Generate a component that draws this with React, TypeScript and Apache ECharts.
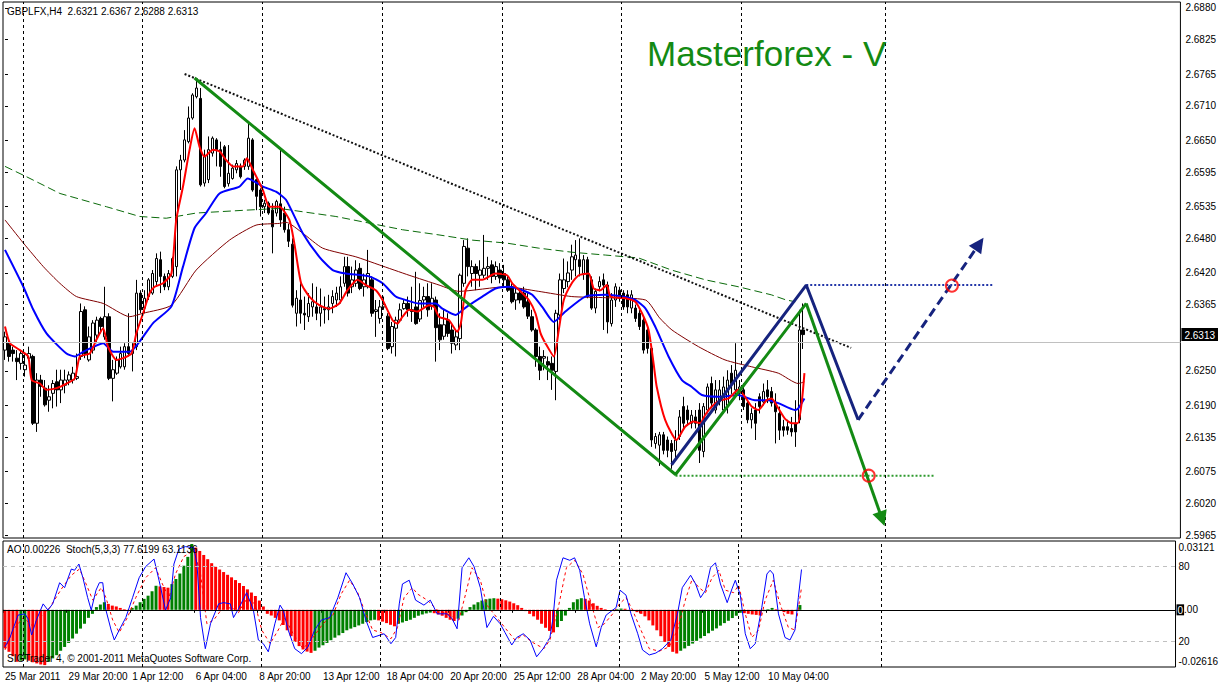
import React, { useEffect, useRef } from "react";
import * as echarts from "echarts";

// ---------- data (prices stored as pips above 2.6000) ----------
const BASE = 2.6;
const PIP = 0.0001;

// [open, close, low, high] per H4 candle, pips above 2.6000
const candlePips: number[][] = [
  [286,309,269,318],[298,275,266,304],[286,280,266,292],[272,266,234,286],[263,280,252,286],
  [252,260,240,280],[272,280,269,292],[275,159,156,278],[159,234,144,246],[234,223,205,243],
  [220,191,188,234],[199,205,179,225],[211,228,185,234],[231,217,188,252],[217,234,194,252],
  [225,234,211,252],[234,243,225,249],[234,246,228,257],[237,240,234,280],[275,353,269,367],
  [356,280,272,362],[269,309,266,327],[286,333,280,338],[312,338,298,344],[341,327,315,344],
  [309,344,304,396],[344,237,234,350],[237,252,197,269],[246,269,243,275],[257,280,254,292],
  [257,292,252,298],[292,280,275,350],[280,286,249,298],[292,385,286,408],[385,356,350,390],
  [359,376,350,390],[379,408,373,411],[385,419,382,425],[405,445,396,454],[443,414,385,457],
  [414,396,390,419],[396,419,390,425],[414,445,411,448],[431,599,414,605],[599,616,564,625],
  [616,651,612,668],[648,689,645,709],[689,729,686,732],[726,741,723,758],[723,573,570,741],
  [576,622,570,634],[582,634,576,657],[628,654,622,657],[651,634,605,654],[634,605,587,648],
  [639,570,567,642],[575,593,570,642],[584,602,582,608],[599,610,593,616],[605,587,584,610],
  [605,616,599,619],[605,654,599,680],[651,564,561,654],[582,553,529,584],[564,535,518,567],
  [535,541,524,547],[541,524,521,544],[529,500,454,541],[524,544,518,547],[540,512,500,634],
  [524,495,490,535],[495,475,465,505],[470,364,360,480],[350,376,327,390],[373,350,332,402],
  [350,347,321,379],[344,367,335,385],[361,370,344,402],[361,350,338,396],[350,361,327,393],
  [358,356,332,379],[356,361,338,382],[367,379,350,390],[373,385,361,396],[373,396,367,414],
  [402,431,396,448],[431,385,379,448],[396,408,385,431],[402,425,396,442],[428,393,390,437],
  [396,408,379,419],[396,419,393,460],[408,350,344,414],[353,356,309,373],[341,361,332,373],
  [361,365,356,379],[345,289,286,350],[292,327,280,335],[324,338,275,344],[338,356,335,367],
  [358,367,356,373],[367,356,344,379],[356,353,335,396],[361,332,330,422],[340,372,335,402],
  [373,379,361,396],[379,356,344,402],[362,376,356,402],[373,325,266,379],[330,304,286,350],
  [310,330,304,356],[338,315,309,350],[321,298,280,332],[295,309,286,321],[306,416,286,419],
  [402,466,396,477],[463,431,414,480],[419,431,396,442],[431,419,390,436],[416,425,396,442],
  [416,428,411,486],[428,431,408,448],[434,414,402,442],[414,431,408,440],[425,411,402,437],
  [419,408,396,434],[408,390,387,414],[396,370,367,402],[373,385,356,396],[385,373,367,390],
  [385,361,358,396],[370,345,340,385],[344,321,318,356],[321,275,257,324],[275,251,234,292],
  [272,275,251,286],[266,260,234,275],[263,251,217,275],[249,350,199,356],[347,408,338,419],
  [393,408,385,445],[405,420,395,440],[425,448,408,469],[443,451,414,477],[443,431,414,480],
  [419,443,408,451],[443,379,376,448],[408,359,356,414],[359,388,350,393],[396,405,388,414],
  [408,399,321,419],[399,335,315,405],[332,373,327,385],[373,396,361,402],[390,376,370,396],
  [385,361,356,390],[382,361,350,390],[359,382,350,390],[359,341,335,365],[350,327,321,356],
  [338,286,280,344],[321,289,280,327],[289,130,118,292],[124,136,115,142],[121,139,85,144],
  [139,112,105,144],[130,112,100,136],[124,110,80,130],[112,130,95,147],[136,170,130,182],
  [188,159,147,205],[182,165,155,190],[159,173,150,182],[170,159,150,182],[182,112,90,194],
  [110,188,100,194],[182,222,176,228],[228,194,185,240],[182,217,176,234],[199,217,190,234],
  [182,222,176,240],[190,234,176,251],[246,228,210,260],[217,251,205,298],[211,222,199,234],
  [217,188,182,228],[194,165,159,199],[165,176,150,185],[182,159,130,194],[205,188,176,211],
  [196,214,190,228],[217,205,194,234],[214,194,188,222],[194,179,124,211],[176,147,130,188],
  [153,147,136,165],[153,147,139,165],[150,144,136,170],[159,144,118,199],[165,321,159,356],
  [321,313,288,367],
];

// moving averages: [candle index, pips above 2.6000]
const redMA: number[][] = [
  [0,327],[1.25,298],[3.75,286],[5.8,275],[6.7,234],[8.75,228],[10.4,217],[12.9,220],[15.4,228],[17.5,237],
  [18.75,275],[21.25,280],[22.9,304],[24.6,324],[25.8,292],[27.9,269],[29.6,272],[31.7,280],[32.9,315],[34.6,350],
  [36.25,385],[37.5,396],[39.6,402],[41.7,419],[42.9,512],[44.6,570],[46.25,634],[47.5,671],[48.75,639],[50,622],
  [52.1,634],[53.75,631],[55.4,616],[57.1,605],[59.6,605],[60.6,619],[62.1,599],[64.6,564],[66.25,535],[68.75,535],
  [71.25,512],[72.5,471],[74.2,402],[76.25,379],[78.75,364],[81.25,358],[83.75,367],[85.8,390],[88.3,408],[90.4,399],
  [92.9,390],[94.6,373],[97.1,338],[98.3,332],[99.6,344],[101.25,356],[103.3,353],[106.25,364],[107.5,361],[108.75,344],
  [111.25,338],[113.3,318],[114.2,332],[115.4,390],[117.1,408],[119.6,408],[122.9,419],[125.8,416],[127.1,402],[129.6,385],
  [131.25,373],[132.9,350],[134.2,315],[135.4,298],[137.5,275],[138.75,321],[140,373],[142,402],[143.75,416],[146.25,419],
  [147.5,393],[149.2,390],[150.8,399],[151.7,379],[155.4,376],[157.9,370],[159.6,350],[161.25,321],[162.5,263],[163.3,222],
  [165.4,165],[168.25,130],[170.4,153],[172.5,162],[174.2,159],[175.4,173],[177.1,188],[179.2,199],[181.25,202],[183.75,217],
  [185.4,205],[187.1,188],[188.75,182],[190.8,199],[192.1,202],[193.75,185],[195.4,167],[197.1,159],[198.6,159],[199.6,194],
  [200.3,246],
];
const blueMA: number[][] = [
  [0,460],[4.6,396],[7.1,356],[10.4,315],[15.4,280],[17.5,275],[19.6,283],[24.6,298],[27.1,283],[31.25,283],
  [33.75,301],[37.1,333],[41.7,362],[44.6,431],[47.5,498],[50.4,524],[53.75,558],[58.75,570],[60.8,584],[64.6,570],
  [67.9,561],[70.4,547],[74.6,489],[78.75,448],[82.1,425],[85.4,419],[91.25,414],[94.6,402],[97.9,379],[100.4,373],
  [103.75,367],[107.9,367],[109.6,358],[112.9,347],[114.2,353],[116.25,364],[119.6,379],[122.9,393],[126.25,396],[129.6,390],
  [132.1,382],[134.6,361],[137.5,335],[140.4,353],[145.4,379],[150.4,382],[154.6,379],[157.9,373],[160.4,359],[162.9,327],
  [166.25,275],[169.6,234],[172.1,222],[174.6,208],[178.75,205],[183.75,208],[187.9,199],[191.25,199],[193.75,194],[197.9,182],
  [198.75,185],[200.3,202],
];
const brownMA: number[][] = [
  [0,512],[4.6,472],[9.6,431],[13.75,402],[17.9,379],[24.6,367],[31.25,344],[34.6,350],[41.7,364],[47.9,425],
  [56.25,477],[62.9,503],[68.75,506],[70.4,508],[74.6,489],[79.6,463],[87.9,448],[93.75,434],[101.25,416],[108.75,399],
  [113.75,388],[125.5,396],[133.75,388],[142,379],[150.5,377],[160.5,373],[164,342],[167.1,321],[173.75,292],[180.4,269],
  [187.1,257],[193.75,246],[198.75,228],[200.3,231],
];
const greenMA: number[][] = [
  [0,605],[5.4,587],[13.75,558],[25.4,535],[33.75,518],[40.4,515],[47.9,524],[60.4,529],[68.75,532],[82.9,518],
  [99.6,495],[108.75,486],[117,477],[125.5,472],[133.75,463],[142,456],[150.5,451],[158.75,446],[167,425],[175.5,408],
  [183.75,396],[192,382],[195.75,373],[198,370],
];

// Awesome Oscillator, units of 0.0001
const aoPips: number[] = [
  -183,-199,-220,-246,-241,-235,-241,-248,-254,-259,
  -262,-246,-230,-215,-194,-176,-157,-136,-113,-89,
  -66,-38,-19,13,25,36,28,20,16,9,
  3,-3,9,20,36,52,67,88,114,111,
  108,105,122,146,172,209,251,312,295,279,
  260,240,221,204,191,179,166,154,141,127,
  113,97,82,66,44,16,-19,-27,-38,-50,
  -72,-97,-125,-152,-172,-188,-198,-204,-194,-179,
  -168,-157,-144,-132,-121,-110,-97,-89,-82,-74,
  -66,-58,-50,-47,-50,-56,-63,-71,-78,-66,
  -60,-53,-47,-38,-28,-22,-17,-13,-16,-22,
  -28,-38,-47,-53,-42,-27,-11,13,25,36,
  44,50,53,55,53,50,45,39,31,22,
  9,-6,-19,-31,-47,-66,-85,-100,-107,-82,
  -53,-27,9,36,50,55,52,44,31,19,
  9,3,0,-3,3,6,5,-3,-6,-11,
  -19,-31,-50,-74,-97,-125,-152,-176,-199,-207,
  -194,-183,-171,-160,-147,-135,-124,-111,-99,-88,
  -75,-63,-52,-39,-28,-14,-16,-19,-22,-24,
  -27,-6,3,9,3,-3,-11,-19,-22,-3,
  22.6,
];

// Stochastic(5,3,3): [candle index, value]
const stochMain: number[][] = [
  [0,15.5],[1.25,23],[3.3,41],[5,42],[5.8,38],[6.7,25],[7.9,37],[9.6,50],[10.8,45],[12,50],
  [13.75,67],[15,63],[16.7,78],[17.5,77],[18.6,82],[19.6,71],[20.8,55],[21.7,45],[22.9,61],[23.75,67],
  [24.6,67],[25.4,45],[26.7,29],[27.5,21],[28.75,29],[30.4,39],[32.1,55],[33.75,71],[35.4,80],[37.5,86],
  [38.75,69],[40.4,45],[41.7,55],[42.5,82],[43.75,94],[45.4,96],[47.5,95],[48.3,82],[49.2,39],[50.4,14],
  [51.7,34],[53.75,50],[55,51],[56.7,50],[57.5,39],[58.75,46],[60.8,59],[62.5,45],[63.75,21],[65,18],
  [66.25,11.5],[67.9,34],[69.2,49],[70,45],[71.25,29],[72.9,14],[74.6,10],[76.25,15.5],[77.9,29],[79.6,37],
  [81.7,39],[83.75,55],[85.8,75],[87.5,66],[89.2,55],[90.8,37],[92.5,23],[95.4,26],[97.1,18],[98.3,23],
  [99.2,50],[100,66],[101.7,69],[103.3,53],[105.4,49],[107,53],[108.75,42],[111.25,42],[112.5,38],[113.75,30],
  [115,79],[116.7,87],[118,80],[119.6,63],[121.25,31],[122.9,40],[124.6,34],[125.8,27],[127.5,17],[128.75,23],
  [130.4,26],[132.1,21],[133.75,7.5],[135.4,14],[137.1,23],[137.9,39],[138.75,69],[140.4,87],[142.1,85],[143.3,87],
  [144.6,77],[145.8,55],[147.1,34],[148.75,15.5],[150,31],[151.25,41],[152.9,45],[153.75,47],[154.75,61],[156.25,57],
  [157.5,42],[159.2,26],[160.4,13],[162.1,9],[163.75,10.5],[165.4,14],[167.5,21],[169.2,42],[170.4,63],[172.5,73],
  [173.75,66],[175,55],[176.25,61],[177.5,79],[178.75,83],[180,66],[181.7,51],[182.9,62],[183.75,69],[185,57],
  [186.25,26],[187.5,14],[188.75,18],[190.4,47],[191.7,74],[192.5,77],[193.3,74],[194.6,42],[196.25,23],[197.5,21],
  [198.75,29],[199.6,55],[200.4,77.6],
];
const stochSignal: number[][] = [
  [0,13],[2,29],[4.6,39],[6.7,33],[8.75,39],[11.25,47],[14.2,62],[16.7,73],[18.75,78],[20.4,66],
  [22.1,53],[24.2,63],[25.4,55],[27.1,37],[28.75,27],[30.8,39],[32.9,55],[35.4,71],[37.9,79],[39.6,66],
  [41.25,55],[42.9,74],[45,88],[47.5,93],[49.2,74],[50.8,34],[52.5,37],[54.6,46],[57.1,47],[58.75,43],
  [60.8,54],[62.9,50],[64.6,29],[66.7,18],[68.75,29],[70.4,39],[72.5,26],[75,14],[77.5,23],[80,34],
  [82.5,41],[84.6,58],[86.7,69],[88.75,59],[90.4,45],[92.5,29],[94.6,27],[97.1,22],[98.75,31],[100.4,55],
  [102.5,63],[103.75,58],[106.25,53],[108.75,45],[112,41],[114.2,37],[115.9,58],[117.5,79],[119.6,69],[121.25,49],
  [123.75,39],[126.25,29],[128.3,21],[130.4,25],[132.5,19.5],[135.6,14],[137.1,21],[139.2,47],[141.25,79],[143.3,85],
  [145.4,74],[147.5,50],[149.2,31],[150.8,34],[152.9,42],[154.6,50],[156.25,55],[157.9,45],[160,29],[162.1,14],
  [164.6,12],[167.1,15.5],[169.2,29],[171.25,54],[172.9,70],[174.6,63],[176.25,59],[177.9,71],[179.6,77],[181.25,61],
  [183.3,59],[184.6,65],[186.25,42],[187.9,23],[189.6,29],[191.25,53],[193.3,69],[195,50],[197.1,31],[198.75,29],
  [200.4,63],
];

// axis ticks / labels
const slotCount = 295;
const xTickLabels = [
  "25 Mar 2011","29 Mar 20:00","1 Apr 12:00","6 Apr 04:00","8 Apr 20:00","13 Apr 12:00","18 Apr 04:00",
  "20 Apr 20:00","25 Apr 12:00","28 Apr 04:00","2 May 20:00","5 May 12:00","10 May 04:00",
];
const yTickValues = [2.688,2.6825,2.6765,2.671,2.665,2.6595,2.6535,2.648,2.642,2.6365,2.625,2.619,2.6135,2.6075,2.602,2.5965];
const lastPrice = 2.6313;
const aoTickValues = [0.03121, 0, -0.02616];
const stochLevels = [80, 20];
const separatorIdx = [4.5, 34.5, 64.5, 94.5, 124.5, 154.5, 184.5, 220.5];

// drawn analysis objects: [candle index, price]
const trendDotted = [[45, 2.67654], [212, 2.62898]];
const greenWave = [[47.5, 2.67585], [168, 2.607], [200.75, 2.6367]];
const greenArrow = [[200.75, 2.6367], [219.75, 2.5993]];
const navyWave = [[167, 2.6087], [200.75, 2.6399], [213.75, 2.6165]];
const navyArrow = [[213.75, 2.6165], [244.1, 2.64705]];
const navyLevel = [[200.75, 2.6399], [247.5, 2.6399]];
const greenLevel = [[168, 2.6068], [233, 2.6068]];
const targets = [[237.25, 2.6398], [216.4, 2.6068]];

const titleText = "Masterforex - V";
const stochText = "Stoch(5,3,3) 77.6199 63.1136";
const copyrightText = "SIGTrader 4, \u00a9 2001-2011 MetaQuotes Software Corp.";

// ---------- chart ----------
const FONT = '"Liberation Sans", Arial, sans-serif';
const GREEN = "#138a13";
const NAVY = "#16237e";

const toPrice = (p: number) => +(BASE + p * PIP).toFixed(5);
const fmt4 = (v: number) => v.toFixed(4);

function buildOption() {
  const cats = Array.from({ length: slotCount }, (_, i) => String(i));
  const candleData = candlePips.map((c) => c.map(toPrice));
  const pts = (arr: number[][]) => arr.map(([i, p]) => [i, toPrice(p)]);
  const aoData = aoPips.map((v, i) => ({
    value: +(v * PIP).toFixed(6),
    itemStyle: { color: i > 0 && v > aoPips[i - 1] ? "#008000" : "#ff0000" },
  }));
  const last = candleData[candleData.length - 1];
  const headerText = `GBPLFX,H4  ${fmt4(last[0])} ${fmt4(last[3])} ${fmt4(last[2])} ${fmt4(last[1])}`;
  const aoText = `AO ${(aoPips[aoPips.length - 1] * PIP).toFixed(5)}  ${stochText}`;
  const showIdx = (i: number) => i % 16 === 0 && i / 16 < xTickLabels.length;

  const sepLine = (data: number[]) => ({
    silent: true,
    symbol: "none",
    animation: false,
    label: { show: false },
    lineStyle: { color: "#000", width: 1, type: [3, 3] },
    data: data.map((x) => ({ xAxis: x })),
  });
  const arrowLine = (a: number[][], color: string, type: any) => ({
    silent: true,
    symbol: ["none", "triangle"],
    symbolSize: 15,
    animation: false,
    label: { show: false },
    lineStyle: { color, width: 3, type },
    itemStyle: { color },
    data: [[{ coord: a[0] }, { coord: a[1] }]],
  });
  const textEl = (x: number, y: number, text: string, size: number, fill: string) => ({
    type: "text",
    x,
    y,
    z: 100,
    silent: true,
    style: {
      text,
      fill,
      fontSize: size,
      fontFamily: FONT,
      textVerticalAlign: "middle",
      verticalAlign: "middle",
    },
  });

  return {
    animation: false,
    backgroundColor: "#ffffff",
    grid: [
      { left: 3, top: 2, width: 1180, height: 536, show: true, borderColor: "#000", borderWidth: 1, backgroundColor: "#fff" },
      { left: 3, top: 541, width: 1180, height: 126, show: true, borderColor: "#000", borderWidth: 1, backgroundColor: "#fff" },
    ],
    xAxis: [
      { type: "category", gridIndex: 0, data: cats, show: false, boundaryGap: true },
      { type: "value", gridIndex: 0, min: -0.5, max: slotCount - 0.5, show: false },
      {
        type: "category",
        gridIndex: 1,
        data: cats,
        boundaryGap: true,
        axisLine: { show: false },
        axisTick: { show: true, interval: (i: number) => showIdx(i), length: 3, lineStyle: { color: "#000" } },
        axisLabel: {
          interval: (i: number) => showIdx(i),
          formatter: (_v: string, i: number) => xTickLabels[i / 16] || "",
          align: "left",
          margin: 4,
          color: "#000",
          fontSize: 10,
          fontFamily: FONT,
        },
        splitLine: { show: false },
      },
      { type: "value", gridIndex: 1, min: -0.5, max: slotCount - 0.5, show: false },
    ],
    yAxis: [
      {
        type: "value",
        gridIndex: 0,
        position: "right",
        min: 2.59598,
        max: 2.68904,
        splitLine: { show: false },
        axisLine: { show: false },
        axisTick: { show: true, customValues: yTickValues, length: 3, lineStyle: { color: "#000" } },
        axisLabel: {
          customValues: [...yTickValues, lastPrice],
          margin: 1,
          color: "#000",
          fontSize: 10,
          fontFamily: FONT,
          formatter: (v: number) => (Math.abs(v - lastPrice) < 1e-7 ? `{cur|${fmt4(v)}}` : `{n|${fmt4(v)}}`),
          rich: {
            n: { padding: [0, 0, 0, 4], color: "#000", fontSize: 10, fontFamily: FONT },
            cur: { backgroundColor: "#000", color: "#fff", padding: [2, 3, 1, 3], fontSize: 10, fontFamily: FONT },
          },
        },
      },
      {
        type: "value",
        gridIndex: 1,
        position: "right",
        min: -0.0271,
        max: 0.03262,
        splitLine: { show: false },
        axisLine: { show: false },
        axisTick: { show: false },
        axisLabel: {
          customValues: aoTickValues,
          margin: 1,
          color: "#000",
          fontSize: 10,
          fontFamily: FONT,
          formatter: (v: number) => (v === 0 ? "{z|0}{n|.00}" : v > 0 ? `{t|${v.toFixed(5)}}` : `{b|${v.toFixed(5)}}`),
          rich: {
            z: { backgroundColor: "#000", color: "#fff", padding: [1, 1, 0, 1], fontSize: 10, fontFamily: FONT },
            n: { color: "#000", fontSize: 10, fontFamily: FONT },
            t: { padding: [7, 0, 0, 2], color: "#000", fontSize: 10, fontFamily: FONT },
            b: { padding: [0, 0, 8, 2], color: "#000", fontSize: 10, fontFamily: FONT },
          },
        },
      },
      {
        type: "value",
        gridIndex: 1,
        position: "right",
        min: -0.7,
        max: 100.5,
        splitLine: { show: false },
        axisLine: { show: false },
        axisTick: { show: false },
        axisLabel: {
          customValues: stochLevels,
          margin: 3,
          color: "#000",
          fontSize: 10,
          fontFamily: FONT,
          formatter: (v: number) => String(v),
        },
      },
    ],
    series: [
      {
        name: "GBPLFX",
        type: "candlestick",
        xAxisIndex: 0,
        yAxisIndex: 0,
        barWidth: 3,
        data: candleData,
        itemStyle: { color: "#ffffff", color0: "#000000", borderColor: "#000000", borderColor0: "#000000", borderWidth: 1 },
        markLine: {
          silent: true,
          symbol: "none",
          animation: false,
          label: { show: false },
          lineStyle: { color: "#c0c0c0", width: 1, type: "solid" },
          data: [{ yAxis: lastPrice }],
        },
        z: 2,
      },
      { name: "MA slow", type: "line", xAxisIndex: 1, yAxisIndex: 0, data: pts(greenMA), showSymbol: false, lineStyle: { color: "#0b6b0b", width: 1, type: [8, 4] }, z: 3 },
      { name: "MA mid", type: "line", xAxisIndex: 1, yAxisIndex: 0, data: pts(brownMA), showSymbol: false, smooth: 0.2, lineStyle: { color: "#800000", width: 1 }, z: 3 },
      { name: "MA blue", type: "line", xAxisIndex: 1, yAxisIndex: 0, data: pts(blueMA), showSymbol: false, smooth: 0.2, lineStyle: { color: "#0000ff", width: 2 }, z: 3 },
      { name: "MA red", type: "line", xAxisIndex: 1, yAxisIndex: 0, data: pts(redMA), showSymbol: false, smooth: 0.2, lineStyle: { color: "#ff0000", width: 2 }, z: 3 },
      {
        name: "trend",
        type: "line",
        xAxisIndex: 1,
        yAxisIndex: 0,
        data: trendDotted,
        showSymbol: false,
        lineStyle: { color: "#111", width: 2, type: [2, 2] },
        markLine: sepLine(separatorIdx),
        z: 4,
      },
      { name: "green level", type: "line", xAxisIndex: 1, yAxisIndex: 0, data: greenLevel, showSymbol: false, lineStyle: { color: "#2e9a2e", width: 2, type: [2, 2] }, z: 4 },
      { name: "navy level", type: "line", xAxisIndex: 1, yAxisIndex: 0, data: navyLevel, showSymbol: false, lineStyle: { color: "#2236a8", width: 2, type: [2, 2] }, z: 4 },
      {
        name: "green wave",
        type: "line",
        xAxisIndex: 1,
        yAxisIndex: 0,
        data: greenWave,
        showSymbol: false,
        lineStyle: { color: GREEN, width: 3 },
        markLine: arrowLine(greenArrow, GREEN, "solid"),
        z: 5,
      },
      {
        name: "navy wave",
        type: "line",
        xAxisIndex: 1,
        yAxisIndex: 0,
        data: navyWave,
        showSymbol: false,
        lineStyle: { color: NAVY, width: 3 },
        markLine: arrowLine(navyArrow, NAVY, [9, 5]),
        z: 5,
      },
      {
        name: "targets",
        type: "scatter",
        xAxisIndex: 1,
        yAxisIndex: 0,
        data: targets,
        symbol: "circle",
        symbolSize: 12,
        itemStyle: { color: "rgba(255,255,255,0)", borderColor: "#ff0000", borderWidth: 2 },
        z: 6,
      },
      {
        name: "AO",
        type: "bar",
        xAxisIndex: 2,
        yAxisIndex: 1,
        barWidth: 3,
        data: aoData,
        markLine: {
          silent: true,
          symbol: "none",
          animation: false,
          label: { show: false },
          lineStyle: { color: "#000", width: 1, type: "solid" },
          data: [{ yAxis: 0 }],
        },
        z: 2,
      },
      {
        name: "Stoch main",
        type: "line",
        xAxisIndex: 3,
        yAxisIndex: 2,
        data: stochMain,
        showSymbol: false,
        lineStyle: { color: "#0000ff", width: 1 },
        markLine: {
          silent: true,
          symbol: "none",
          animation: false,
          label: { show: false },
          lineStyle: { color: "#c0c0c0", width: 1, type: [4, 4] },
          data: stochLevels.map((v) => ({ yAxis: v })),
        },
        z: 4,
      },
      {
        name: "Stoch signal",
        type: "line",
        xAxisIndex: 3,
        yAxisIndex: 2,
        data: stochSignal,
        showSymbol: false,
        lineStyle: { color: "#ff0000", width: 1, type: [3, 3] },
        markLine: sepLine(separatorIdx),
        z: 3,
      },
    ],
    graphic: [
      textEl(7, 11, headerText, 10, "#000"),
      textEl(647, 53, titleText, 35, GREEN),
      textEl(7, 549, aoText, 10, "#000"),
      textEl(7, 658, copyrightText, 10, "#000"),
    ],
  };
}

export default function App() {
  const ref = useRef<HTMLDivElement>(null);
  useEffect(() => {
    if (!ref.current) return;
    const chart = echarts.init(ref.current, null, { renderer: "svg" });
    chart.setOption(buildOption() as any);
    return () => chart.dispose();
  }, []);
  return (
    <div
      ref={ref}
      style={{ position: "fixed", left: 0, top: 0, width: 1221, height: 684, background: "#fff" }}
    />
  );
}
